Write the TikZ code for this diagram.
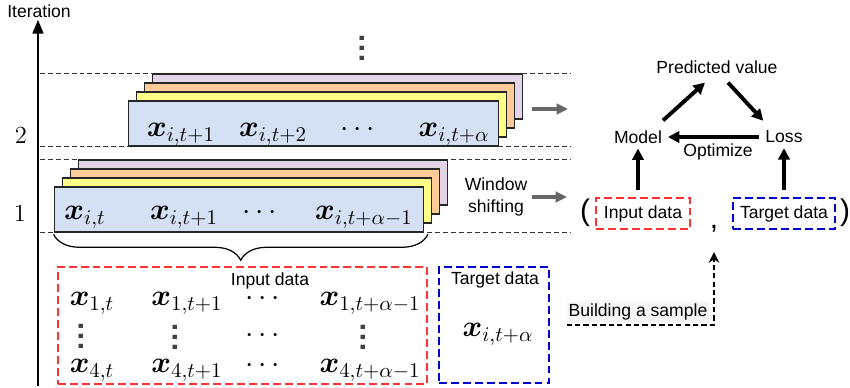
\RequirePackage{fix-cm}
\documentclass[tikz,border=0pt]{standalone}
\usepackage{amsmath}
\usepackage{fontspec}
\setsansfont{Liberation Sans}
\usetikzlibrary{arrows.meta,decorations.pathreplacing}

\definecolor{winblue}{HTML}{D4E1F5}
\definecolor{winyellow}{HTML}{FFFF88}
\definecolor{winorange}{HTML}{FFCC99}
\definecolor{winpurple}{HTML}{E1D5E7}
\definecolor{dashred}{HTML}{FF3333}
\definecolor{dashblue}{HTML}{0000CC}
\definecolor{shiftgray}{HTML}{666666}

\tikzset{
  lbl/.style={font=\sffamily\fontsize{10}{13}\selectfont, inner sep=1pt},
  val/.style={font=\fontsize{17}{20}\selectfont, anchor=base, inner sep=0pt},
  dots/.style={font=\sffamily\bfseries\fontsize{17}{20}\selectfont, text=black!75, inner sep=0pt, rotate=90},
  num/.style={font=\fontsize{14}{16}\selectfont, inner sep=0pt},
  win/.style={draw=black!85, line width=0.6pt, minimum width=7.4cm, minimum height=0.9cm, inner sep=0pt},
  sep/.style={line width=0.5pt, black!80, dash pattern=on 2.8pt off 1.7pt},
  axis/.style={line width=1.7pt, -{Triangle[length=8pt,width=6pt]}},
  flow/.style={line width=2.2pt, -{Triangle[length=6.5pt,width=6.5pt]}},
  shiftarrow/.style={line width=2.3pt, shiftgray, -{Triangle[length=6.5pt,width=6pt]}},
  redbox/.style={draw=dashred, line width=1.2pt, dash pattern=on 4.5pt off 2.3pt, inner sep=0pt},
  bluebox/.style={draw=dashblue, line width=1.2pt, dash pattern=on 4.5pt off 2.3pt, inner sep=0pt},
  sample/.style={line width=0.9pt, dash pattern=on 3pt off 1.8pt, -{Stealth[length=6pt,width=6pt]}},
  brace/.style={decorate, decoration={brace, mirror, amplitude=0.52cm}, line width=0.7pt}
}

\begin{document}
\begin{tikzpicture}[x=0.02cm,y=-0.02cm]
\useasboundingbox (0,0) rectangle (850,388);

% iteration axis
\node[lbl] (iter) at (39,11) {Iteration};
\coordinate (axbot) at (38,386);
\draw[axis] (axbot) -- (axbot |- iter.south);
\node[num] (n2) at (21,135) {2};
\node[num] (n1) at (20,213.5) {1};

% separators
\foreach \y in {73,146,159,232}
    \draw[sep] (40,\y) -- (570,\y);

% iteration 1 windows
\foreach \k/\c in {3/winpurple,2/winorange,1/winyellow}
    \node[win, fill=\c] (w1l\k) at (239+8*\k,209.5-9*\k) {};
\node[win, fill=winblue] (w1) at (239,209.5) {};
\node[val] (w1a) at (85,220) {$\boldsymbol{x}_{i,t}$};
\node[val] (w1b) at (184,220) {$\boldsymbol{x}_{i,t+1}$};
\node[val] (w1c) at (262,220) {$\cdots$};
\node[val] (w1d) at (364,220) {$\boldsymbol{x}_{i,t+\alpha-1}$};

% iteration 2 windows
\foreach \k/\c in {3/winpurple,2/winorange,1/winyellow}
    \node[win, fill=\c] (w2l\k) at (313.5+8*\k,123.5-9*\k) {};
\node[win, fill=winblue] (w2) at (313.5,123.5) {};
\node[val] (w2a) at (181,137) {$\boldsymbol{x}_{i,t+1}$};
\node[val] (w2b) at (273,137) {$\boldsymbol{x}_{i,t+2}$};
\node[val] (w2c) at (360,137) {$\cdots$};
\node[val] (w2d) at (454,137) {$\boldsymbol{x}_{i,t+\alpha}$};
\node[dots] (more) at (362,48) {.\kern1pt.\kern1pt.};

% shifting arrows
\node[lbl, align=center] (shiftlbl) at (496,197) {Window\\shifting};
\coordinate (s2a) at (532,109);
\coordinate (s2b) at (568,109);
\coordinate (s1a) at (532,197);
\coordinate (s1b) at (567,197);
\draw[shiftarrow] (s2a) -- (s2b);
\draw[shiftarrow] (s1a) -- (s1b);

\draw[brace] ([yshift=-1pt]w1.south west) -- ([xshift=2pt,yshift=-1pt]w1.south east);

% input data matrix
\node[redbox, minimum width=7.38cm, minimum height=2.34cm] (inbig) at (242.5,325.5) {};
\node[lbl] (inlbl) at (270,281) {Input data};
\node[val] (m11) at (92,306) {$\boldsymbol{x}_{1,t}$};
\node[val] (m12) at (187,306) {$\boldsymbol{x}_{1,t+1}$};
\node[val] (m13) at (265,306) {$\cdots$};
\node[val] (m14) at (370,306) {$\boldsymbol{x}_{1,t+\alpha-1}$};
\node[dots] (m21) at (81,336) {.\kern1pt.\kern1pt.};
\node[dots] (m22) at (175,337) {.\kern1pt.\kern1pt.};
\node[val, anchor=center] (m23) at (265,336) {$\cdots$};
\node[dots] (m24) at (363,337) {.\kern1pt.\kern1pt.};
\node[val] (m31) at (92,373) {$\boldsymbol{x}_{4,t}$};
\node[val] (m32) at (187,373) {$\boldsymbol{x}_{4,t+1}$};
\node[val] (m33) at (265,373) {$\cdots$};
\node[val] (m34) at (370,373) {$\boldsymbol{x}_{4,t+\alpha-1}$};

% target data
\node[bluebox, minimum width=2.2cm, minimum height=2.32cm] (tbig) at (494,325) {};
\node[lbl] (tlbl) at (495,280) {Target data};
\node[val] (tval) at (498,337) {$\boldsymbol{x}_{i,t+\alpha}$};

% training loop
\node[lbl] (pred) at (717,67) {Predicted value};
\node[lbl] (model) at (638,137) {Model};
\node[lbl] (loss) at (784,137) {Loss};
\node[lbl] (opt) at (718,152) {Optimize};
\draw[flow] ([shift={(-1,-8)}]model.north east) -- ([shift={(-12,7)}]pred.south);
\draw[flow] ([shift={(11,7)}]pred.south) -- ([shift={(0,-8)}]loss.north west);
\draw[flow, shorten <=0.09cm, shorten >=0.08cm] (loss.west) -- (model.east);

% sample
\node[lbl, redbox, minimum width=1.88cm, minimum height=0.62cm] (inbox) at (643,213.5) {Input data};
\node[lbl, bluebox, minimum width=2.04cm, minimum height=0.62cm] (tbox) at (784,213.5) {Target data};
\node[font=\sffamily\fontsize{17}{20}\selectfont, anchor=base, inner sep=0pt] (lpar) at (585,221) {(};
\node[font=\sffamily\fontsize{17}{20}\selectfont, anchor=base, inner sep=0pt] (rpar) at (845,221) {)};
\node[font=\sffamily\fontsize{17}{20}\selectfont, anchor=base, inner sep=0pt] (comma) at (714,229) {,};
\draw[flow, shorten <=0.14cm, shorten >=0.06cm] (inbox.north -| model) -- (model.south);
\draw[flow, shorten <=0.14cm, shorten >=0.06cm] (tbox.north -| loss) -- (loss.south);

\node[lbl, fill=black!4] (build) at (638,312) {Building a sample};
\draw[sample, shorten >=0.38cm] ([yshift=-1.5pt]build.south west) -- ([yshift=-1.5pt]build.south west -| comma) -- (comma.south);
\end{tikzpicture}
\end{document}
